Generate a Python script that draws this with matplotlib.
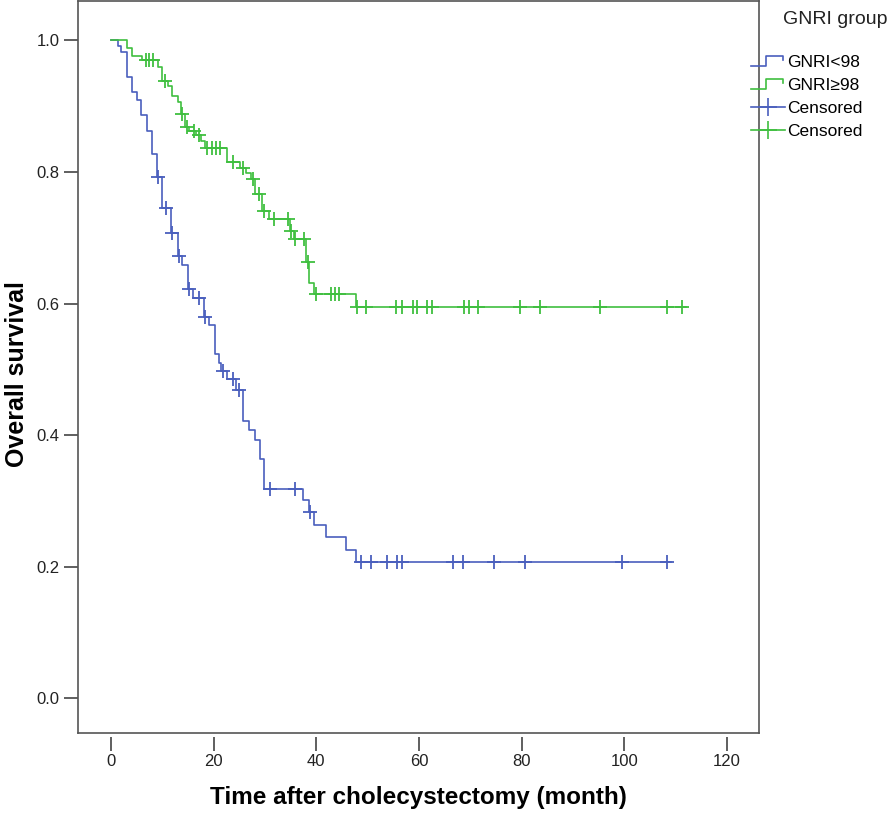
import numpy as np
import matplotlib
matplotlib.use("Agg")
import matplotlib.pyplot as plt
from matplotlib.lines import Line2D
from matplotlib.legend_handler import HandlerBase

# Kaplan-Meier steps: time (month) and survival after each drop
low_times = [0, 1.4, 2.0, 3.1, 4.1, 5.0, 5.8, 7.0, 8.0, 8.9, 9.9, 11.8, 13.0, 13.8, 15.0, 16.0,
             18.1, 19.2, 20.2, 21.0, 21.4, 22.7, 24.3, 25.8, 26.8, 28.0, 29.1, 29.9, 37.5, 38.5,
             39.6, 41.9, 45.8, 47.8]
low_surv = [1.0, 0.992, 0.982, 0.944, 0.921, 0.909, 0.886, 0.863, 0.828, 0.792, 0.746, 0.708,
            0.672, 0.658, 0.622, 0.609, 0.580, 0.567, 0.524, 0.510, 0.498, 0.485, 0.468, 0.422,
            0.407, 0.392, 0.363, 0.318, 0.301, 0.283, 0.264, 0.245, 0.226, 0.207]
low_end = 109.1
low_censor = [9.2, 10.8, 11.9, 13.2, 15.2, 17.1, 18.3, 21.8, 23.7, 25.0, 30.9, 35.9, 38.8,
              48.8, 50.7, 53.8, 55.7, 56.6, 66.6, 68.5, 74.6, 80.6, 99.5, 108.3]

high_times = [0, 3.1, 4.1, 6.0, 9.1, 9.9, 11.1, 12.0, 13.0, 13.6, 14.4, 15.3, 16.5, 17.5, 18.3,
              22.7, 25.2, 26.4, 27.2, 28.0, 29.5, 30.7, 34.8, 35.7, 37.9, 38.6, 39.6, 47.8]
high_surv = [1.0, 0.988, 0.977, 0.970, 0.959, 0.938, 0.930, 0.916, 0.906, 0.888, 0.868, 0.862,
             0.856, 0.847, 0.837, 0.815, 0.806, 0.798, 0.790, 0.767, 0.740, 0.728, 0.711, 0.698,
             0.663, 0.631, 0.614, 0.594]
high_end = 112.0
high_censor = [6.8, 7.4, 8.2, 10.5, 13.8, 14.8, 16.1, 17.1, 18.8, 19.6, 20.4, 21.2, 23.7, 25.8,
               27.6, 28.9, 29.8, 31.8, 34.4, 35.0, 35.9, 37.7, 38.3, 40.0, 42.8, 43.6, 44.5, 48.0,
               49.7, 55.5, 56.7, 58.8, 59.6, 61.6, 62.5, 68.7, 69.7, 71.5, 79.6, 83.5, 95.3,
               108.2, 111.3]

group_labels = ["GNRI<98", "GNRI\u226598"]
blue = "#4a5fbd"
green = "#3fbf3f"

fonts = ["Liberation Sans", "DejaVu Sans"]


def surv_at(times, surv, t):
    i = np.searchsorted(times, t, side="right") - 1
    return surv[i]


class StepHandler(HandlerBase):
    def create_artists(self, legend, orig_handle, xdescent, ydescent, width, height, fontsize, trans):
        xs = np.array([0, 0.45, 0.45, 0.95, 0.95]) * width - xdescent
        ys = np.array([0.1, 0.1, 0.9, 0.9, 0.6]) * height - ydescent
        ln = Line2D(xs, ys, color=orig_handle.get_color(), lw=1.2)
        ln.set_transform(trans)
        return [ln]


fig = plt.figure(figsize=(8.96, 8.13), dpi=100)
ax = fig.add_axes([78 / 896, 1 - 733 / 813, (759 - 78) / 896, (733 - 1) / 813])

for times, surv, end, cens, col in [(low_times, low_surv, low_end, low_censor, blue),
                                    (high_times, high_surv, high_end, high_censor, green)]:
    ax.step(times + [end], surv + [surv[-1]], where="post", color=col, lw=1.2)
    cy = [surv_at(times, surv, c) for c in cens]
    ax.plot(cens, cy, ls="none", marker="+", ms=10, mew=1.3, color=col)

ax.set_xlim(-6.4, 126.2)
ax.set_ylim(-0.053, 1.06)
ax.set_xticks([0, 20, 40, 60, 80, 100, 120])
ax.set_yticks([0.0, 0.2, 0.4, 0.6, 0.8, 1.0])
ax.set_yticklabels(["0.0", "0.2", "0.4", "0.6", "0.8", "1.0"])

for s in ax.spines.values():
    s.set_color("#555555")
    s.set_linewidth(1.2)
ax.spines["bottom"].set_position(("outward", 3))
ax.spines["bottom"].set_color("none")
ax.plot([0, 1], [0, 0], transform=ax.transAxes, color="#555555", lw=1.2, clip_on=False)
ax.tick_params(axis="both", direction="out", length=10, width=1.2, color="#444444",
               labelsize=12, labelcolor="#222222")
ax.tick_params(axis="x", pad=2)
for lab in ax.get_xticklabels() + ax.get_yticklabels():
    lab.set_family(fonts)

ax.set_xlabel("Time after cholecystectomy (month)", fontsize=17.5, fontweight="bold",
              family=fonts, labelpad=12)
ax.set_ylabel("Overall survival", fontsize=18, fontweight="bold", family=fonts)
ax.yaxis.set_label_coords(-0.072, 0.49)

labels = group_labels + ["Censored", "Censored"]
handles_leg = [Line2D([], [], color=blue), Line2D([], [], color=green),
               Line2D([], [], color=blue, marker="+", ms=13, mew=1.2, lw=1.2),
               Line2D([], [], color=green, marker="+", ms=13, mew=1.2, lw=1.2)]
fig.text(783 / 896, 1 - 20 / 813, "GNRI group", fontsize=14, family=fonts, va="center",
         color="#222222")
fig.legend(handles_leg, labels, loc="upper left", bbox_to_anchor=(742 / 896, 1 - 46 / 813),
           frameon=False, prop={"family": fonts, "size": 12.5},
           handlelength=1.95, handletextpad=0.15, labelspacing=0.45, borderpad=0.0,
           handler_map={handles_leg[0]: StepHandler(), handles_leg[1]: StepHandler()})

fig.savefig("out.png", dpi=100)
